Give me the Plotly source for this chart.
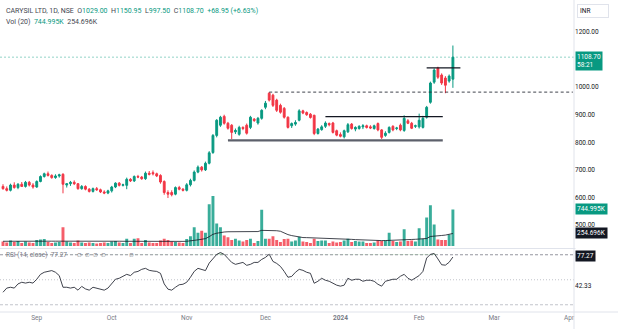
import plotly.graph_objects as go

# ---- CARYSIL LTD, 1D, NSE : daily bars, oldest first ----
opens = [640, 632, 626, 645, 636, 648, 640, 655, 645, 638,
         658, 676, 686, 680, 672, 678, 684, 645, 650, 655,
         650, 632, 640, 630, 622, 632, 628, 620, 616, 624,
         638, 652, 644, 644, 666, 660, 676, 674, 668, 688,
         690, 686, 680, 658, 618, 618, 612, 636, 630, 626,
         646, 662, 692, 710, 700, 724, 763, 825, 862, 894,
         869, 862, 838, 829, 854, 862, 854, 884, 870, 887,
         927, 978, 971, 953, 934, 923, 891, 860, 866, 880,
         914, 908, 902, 898, 832, 846, 858, 868, 870, 842,
         828, 820, 838, 866, 848, 850, 856, 860, 856, 850,
         868, 845, 825, 836, 858, 850, 862, 843, 878, 869,
         858, 856, 854, 891, 945, 1018, 1069, 1044, 1033, 1022,
         1029.00]
highs = [648, 640, 650, 655, 652, 656, 660, 660, 652, 662,
         680, 690, 694, 684, 684, 686, 688, 652, 660, 662,
         652, 645, 644, 634, 636, 638, 632, 626, 628, 642,
         655, 656, 650, 672, 670, 680, 682, 678, 694, 696,
         698, 690, 684, 662, 626, 626, 640, 642, 634, 652,
         668, 698, 716, 714, 730, 768, 830, 884, 896, 900,
         874, 866, 850, 860, 858, 868, 896, 888, 892, 920,
         950, 982, 976, 958, 940, 928, 894, 872, 880, 920,
         918, 912, 906, 900, 852, 862, 876, 872, 874, 846,
         836, 846, 870, 870, 858, 862, 866, 864, 862, 864,
         872, 848, 840, 858, 862, 856, 868, 898, 884, 874,
         864, 904, 896, 932, 1020, 1068, 1074, 1050, 1040, 1046,
         1150.95]
lows = [628, 622, 622, 632, 630, 638, 636, 640, 632, 635,
        655, 672, 676, 668, 668, 672, 615, 636, 642, 645,
        628, 628, 626, 618, 618, 624, 616, 612, 612, 618,
        634, 640, 640, 630, 656, 656, 670, 664, 664, 680,
        680, 674, 650, 610, 598, 604, 608, 626, 622, 622,
        640, 658, 688, 694, 696, 720, 758, 818, 856, 864,
        846, 812, 830, 824, 844, 828, 848, 874, 864, 882,
        920, 948, 928, 910, 904, 886, 850, 852, 860, 876,
        902, 896, 886, 826, 828, 842, 852, 858, 832, 822,
        818, 814, 834, 846, 840, 846, 848, 850, 848, 846,
        840, 812, 820, 832, 840, 844, 840, 838, 866, 848,
        852, 850, 850, 886, 940, 1012, 1030, 1008, 978, 1016,
        997.50]
closes = [632, 626, 645, 636, 648, 640, 655, 645, 638, 658,
          676, 686, 680, 672, 678, 682, 648, 650, 655, 650,
          632, 640, 630, 622, 632, 628, 620, 616, 624, 638,
          652, 644, 646, 666, 660, 676, 674, 668, 688, 684,
          686, 678, 656, 618, 612, 610, 636, 630, 626, 646,
          662, 692, 710, 700, 724, 762, 825, 880, 891, 869,
          851, 836, 843, 854, 850, 833, 891, 879, 887, 916,
          942, 953, 934, 916, 909, 891, 854, 868, 872, 914,
          906, 900, 890, 832, 848, 856, 870, 864, 836, 826,
          822, 842, 864, 850, 854, 858, 860, 854, 852, 860,
          845, 818, 833, 854, 845, 852, 845, 887, 869, 851,
          860, 880, 887, 927, 1015, 1062, 1036, 1015, 1007, 1040,
          1108.70]

# volume in thousands of shares, and its 20-day average
volumes_k = [90, 70, 110, 80, 100, 60, 90, 70, 60, 120,
             130, 140, 80, 60, 70, 80, 380, 90, 70, 60,
             110, 70, 60, 70, 60, 50, 60, 70, 60, 90,
             100, 70, 60, 150, 60, 150, 160, 60, 120, 70,
             60, 60, 110, 150, 120, 90, 80, 70, 60, 140,
             200, 380, 270, 310, 270, 850, 1020, 460, 380, 215,
             180, 120, 150, 110, 90, 120, 150, 60, 100, 740,
             150, 150, 200, 120, 80, 140, 150, 90, 110, 190,
             90, 80, 60, 150, 100, 110, 110, 60, 90, 70,
             80, 110, 150, 80, 100, 90, 90, 60, 60, 70,
             110, 100, 110, 270, 100, 80, 90, 340, 100, 110,
             90, 360, 150, 580, 827, 440, 130, 120, 120, 235,
             744.995]
vol_ma_k = [96, 95, 95, 94, 94, 95, 95, 96, 96, 97,
            98, 99, 99, 98, 98, 98, 110, 110, 111, 111,
            112, 112, 111, 110, 108, 106, 104, 103, 100, 99,
            98, 97, 96, 95, 95, 96, 92, 92, 93, 93,
            92, 92, 93, 94, 95, 95, 95, 95, 94, 96,
            100, 115, 125, 140, 150, 190, 238, 260, 276, 285,
            290, 292, 293, 294, 295, 295, 294, 294, 294, 318,
            320, 319, 317, 311, 300, 258, 232, 212, 196, 185,
            172, 170, 168, 166, 164, 163, 163, 162, 158, 150,
            146, 143, 140, 135, 130, 125, 120, 115, 112, 110,
            110, 110, 111, 112, 116, 120, 124, 128, 131, 133,
            136, 142, 148, 153, 194, 205, 210, 214, 222, 235,
            254.696]

# RSI (14, close)
rsi = [35, 40, 41, 40, 45, 47, 46, 47, 46, 50.6,
       56.5, 59, 60, 61, 59, 55, 41, 41, 40, 41,
       37.5, 42, 39, 37.5, 41, 40, 38.7, 37.5, 40, 46,
       50.6, 51.8, 54, 56.5, 55, 59, 60, 62.5, 63.7, 61.3,
       60.5, 60, 57.7, 45, 38.7, 37.5, 41, 44, 44.6, 47,
       53, 60, 63.7, 62, 61, 70, 75.6, 80.4, 82.7, 80.4,
       75.6, 70.8, 68.5, 69.6, 70.8, 67.3, 68.5, 70.8, 70.8, 74.4,
       76.8, 80.6, 72, 69.6, 66, 60, 53, 54, 59, 62.5,
       61.3, 59, 57.7, 45.8, 48.2, 51.8, 49.4, 48.2, 45.8, 43.5,
       42.3, 43.5, 51.8, 49.4, 50.6, 50.6, 48.2, 49.4, 49.4, 48.2,
       44.6, 42.3, 48.2, 49.4, 50.6, 50.6, 54.2, 56.5, 51.8, 49.4,
       51.8, 55, 60, 76, 80.5, 81.5, 75, 68, 67.5, 71,
       77.27]

# time axis: first session of each month (bar index) and its label
month_pos = [9, 29, 49, 70, 90, 111, 131, 151]
month_labels = ["Sep", "Oct", "Nov", "Dec", "<b>2024</b>", "Feb", "Mar", "Apr"]
price_ticks = [500, 600, 700, 800, 900, 1000, 1200]
rsi_ticks = [42.33]

# drawn levels (price)
dec_high = 982
range_top = 893
range_floor = 807
breakout_top = 1070
last_close = closes[-1]

UP = "#089981"
DOWN = "#f23645"
INK = "#131722"
GREY = "#787b86"
BORDER = "#e0e3eb"
FONT = "Roboto"

n = len(closes)
idx = list(range(n))
X_RANGE = [-0.8, 152.3]

vol_colors = ["rgba(8,153,129,0.8)" if c >= o else "rgba(242,54,69,0.8)"
              for o, c in zip(opens, closes)]

fig = go.Figure()

# volume overlay at the foot of the price pane
fig.add_trace(go.Bar(x=idx, y=volumes_k, width=0.78, marker=dict(color=vol_colors, line=dict(width=0)),
                     xaxis="x", yaxis="y", hoverinfo="skip"))
fig.add_trace(go.Scatter(x=idx, y=vol_ma_k, mode="lines", line=dict(color=INK, width=0.8),
                         xaxis="x", yaxis="y", hoverinfo="skip"))

# price candles
fig.add_trace(go.Candlestick(
    x=idx, open=opens, high=highs, low=lows, close=closes,
    xaxis="x", yaxis="y3", whiskerwidth=0,
    increasing=dict(line=dict(color=UP, width=1), fillcolor=UP),
    decreasing=dict(line=dict(color=DOWN, width=1), fillcolor=DOWN),
))

# RSI pane: overbought shading above 80, then the line
fig.add_trace(go.Scatter(x=idx, y=[80] * n, mode="lines", line=dict(width=0),
                         xaxis="x2", yaxis="y2", hoverinfo="skip"))
fig.add_trace(go.Scatter(x=idx, y=[max(r, 80) for r in rsi], mode="lines", line=dict(width=0),
                         fill="tonexty", fillcolor="rgba(76,175,80,0.28)",
                         xaxis="x2", yaxis="y2", hoverinfo="skip"))
fig.add_trace(go.Scatter(x=idx, y=rsi, mode="lines", line=dict(color="#2a2e39", width=0.9),
                         xaxis="x2", yaxis="y2", hoverinfo="skip"))

W, H = 618, 329
ML, MR, MT, MB = 0, 44, 0, 17
PW, PH = W - ML - MR, H - MT - MB


def px(xp):
    return xp / PW


def py(yp):
    return 1 - yp / PH


main_dom = [py(248.5), 1]
rsi_dom = [0, py(249.5)]

axis_font = dict(family=FONT, size=6.5, color=INK)

fig.update_layout(
    width=W, height=H, margin=dict(l=ML, r=MR, t=MT, b=MB),
    paper_bgcolor="white", plot_bgcolor="white", showlegend=False,
    font=dict(family=FONT, size=6.5, color=INK),
    xaxis=dict(domain=[0, 1], range=X_RANGE, anchor="y", showticklabels=False, showgrid=False,
               zeroline=False, showline=False, ticks="", rangeslider=dict(visible=False)),
    xaxis2=dict(domain=[0, 1], range=X_RANGE, anchor="y2", matches="x", tickvals=month_pos,
                ticktext=month_labels, showgrid=False, zeroline=False, showline=False, ticks="",
                tickfont=dict(family=FONT, size=6.5, color=GREY)),
    yaxis=dict(domain=main_dom, range=[-51, 5008], visible=False, fixedrange=True),
    yaxis3=dict(overlaying="y", anchor="x", side="right", range=[415, 1316], tickvals=price_ticks,
                ticktext=[f"{v:.2f}" for v in price_ticks], showgrid=False, zeroline=False,
                showline=False, ticks="", tickfont=axis_font),
    yaxis2=dict(domain=rsi_dom, range=[11.3, 86.3], anchor="x2", side="right", tickvals=rsi_ticks,
                ticktext=[f"{v:.2f}" for v in rsi_ticks], showgrid=False, zeroline=False,
                showline=False, ticks="", tickfont=axis_font),
)

shapes = []
# RSI bands
for lvl, col, dash in [(80, GREY, "3px,2px"), (50, "#b2b5be", "1px,2px"), (20, "#b2b5be", "3px,2px")]:
    shapes.append(dict(type="line", xref="x2", yref="y2", x0=X_RANGE[0], x1=X_RANGE[1], y0=lvl, y1=lvl,
                       line=dict(color=col, width=0.8, dash=dash), layer="below"))
# last-price line
shapes.append(dict(type="line", xref="x", yref="y3", x0=X_RANGE[0], x1=X_RANGE[1], y0=last_close,
                   y1=last_close, line=dict(color="rgba(8,153,129,0.55)", width=0.8, dash="2px,2px")))
# hand-drawn levels
shapes.append(dict(type="line", xref="x", yref="y3", x0=71, x1=152, y0=dec_high, y1=dec_high,
                   line=dict(color="#2a2e39", width=0.9, dash="3px,2.5px")))
shapes.append(dict(type="line", xref="x", yref="y3", x0=86, x1=117.3, y0=range_top, y1=range_top,
                   line=dict(color=INK, width=1.4)))
shapes.append(dict(type="line", xref="x", yref="y3", x0=60, x1=117.3, y0=range_floor, y1=range_floor,
                   line=dict(color="#5d606b", width=2.2)))
shapes.append(dict(type="line", xref="x", yref="y3", x0=113, x1=122, y0=breakout_top, y1=breakout_top,
                   line=dict(color=INK, width=1.4)))
# pane and scale borders
full_w = W / PW
shapes.append(dict(type="line", xref="paper", yref="paper", x0=0, x1=full_w, y0=py(248.5), y1=py(248.5),
                   line=dict(color=BORDER, width=1)))
shapes.append(dict(type="line", xref="paper", yref="paper", x0=0, x1=full_w, y0=0, y1=0,
                   line=dict(color=BORDER, width=1)))
shapes.append(dict(type="line", xref="paper", yref="paper", x0=1, x1=1, y0=-MB / PH, y1=1,
                   line=dict(color=BORDER, width=1)))
fig.update_layout(shapes=shapes)


def teal(s):
    return f"<span style='color:{UP}'>{s}</span>"


ann = []
hdr = ("CARYSIL LTD, 1D, NSE  O" + teal("1029.00") + "  H" + teal("1150.95") + "  L" + teal("997.50")
       + "  C" + teal("1108.70") + "  " + teal("+68.95 (+6.63%)"))
ann.append(dict(text=hdr, x=px(4), y=py(11), xref="paper", yref="paper", xanchor="left", yanchor="middle",
                showarrow=False, font=dict(family=FONT, size=7, color="#434651")))
ann.append(dict(text="Vol (20)  " + teal("744.995K") + "  254.696K", x=px(4), y=py(22), xref="paper",
                yref="paper", xanchor="left", yanchor="middle", showarrow=False,
                font=dict(family=FONT, size=7, color="#434651")))
ann.append(dict(text="RSI (14, close)  77.27", x=px(4), y=py(255), xref="paper", yref="paper",
                xanchor="left", yanchor="middle", showarrow=False,
                font=dict(family=FONT, size=6.5, color=GREY)))
for xp in [79, 87, 95, 103, 131]:
    ann.append(dict(text="∅", x=px(xp), y=py(255), xref="paper", yref="paper", xanchor="center",
                    yanchor="middle", showarrow=False, font=dict(family="DejaVu Sans", size=5.5, color=GREY)))

# scale badges on the right
ann.append(dict(text="81.36", x=px(577), y=py(247), xref="paper", yref="paper", xanchor="left",
                yanchor="middle", showarrow=False, font=axis_font))
ann.append(dict(text="", x=px(575), y=py(244), xref="paper", yref="paper", xanchor="left", yanchor="middle",
                width=40, height=7, bgcolor="white", showarrow=False))
badges = [("1108.70<br>58:21", 61, UP), ("744.995K", 209, UP), ("254.696K", 233, INK), ("77.27", 256, INK)]
for txt, yp, bg in badges:
    ann.append(dict(text=txt, x=px(575), y=py(yp), xref="paper", yref="paper", xanchor="left",
                    yanchor="middle", align="left", showarrow=False, bgcolor=bg, borderpad=1,
                    font=dict(family=FONT, size=6.5, color="white")))
ann.append(dict(text="INR", x=px(577), y=py(11), xref="paper", yref="paper", xanchor="left",
                yanchor="middle", showarrow=False, bgcolor="white", bordercolor=BORDER, borderwidth=1,
                borderpad=2, width=26, align="left", font=dict(family=FONT, size=6.5, color=INK)))
fig.update_layout(annotations=ann)

fig.write_html("out.html")
